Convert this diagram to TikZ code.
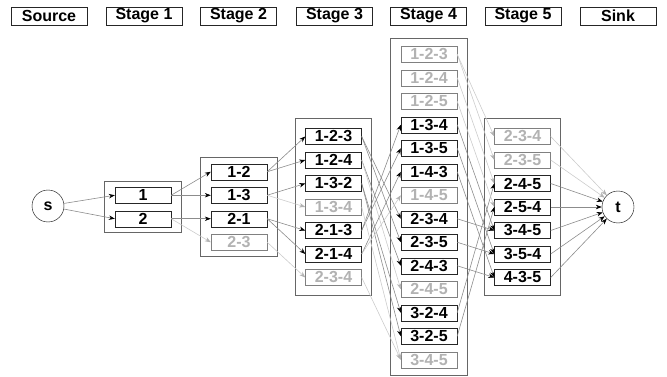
\documentclass[tikz,border=0pt]{standalone}
\usepackage{fontspec}
\setmainfont{Liberation Sans}
\usetikzlibrary{chains,fit,positioning,arrows.meta}

\newcommand\lblfont{\fontsize{16}{16}\selectfont\bfseries}

\begin{document}
\begin{tikzpicture}[x=1pt,y=-1pt]
\useasboundingbox (0,0) rectangle (667,377);

\edef\rowstep{23.5}
\tikzstyle{hdr}=[draw=black!85,minimum width=76pt,minimum height=18pt,inner sep=0pt,font=\lblfont]
\tikzstyle{st}=[draw=black!85,fill=white,minimum width=56pt,minimum height=16pt,inner sep=0pt,font=\lblfont]
\tikzstyle{dead}=[st,draw=black!50,text=black!30]
\tikzstyle{grp}=[draw=black!60,line width=1pt,inner xsep=10pt]
\tikzstyle{term}=[circle,draw,minimum size=32pt,inner sep=0pt,font=\lblfont]
\tikzstyle{arc}=[draw=black!45,line width=0.6pt,-{Stealth[length=6pt,width=4.5pt,color=black]}]
\tikzstyle{deadarc}=[draw=black!20,line width=0.6pt,-{Stealth[length=6pt,width=4.5pt,color=black!30]}]

%% Column headers
\foreach \x/\txt [count=\i] in {49/Source,144/Stage 1,238.5/Stage 2,334.5/Stage 3,428.5/Stage 4,523/Stage 5,618/Sink}
    \node [hdr] (h\i) at (\x,16) {\txt};

%% Source and sink
\node [term] (s) at (48,206) {s};
\node [term] (t) at (618,207) {t};

%% Stage 1
\foreach \lab/\sty [count=\i] in {1/st,2/st}
    \node [\sty] (A\lab) at (143,{195.25+\rowstep*(\i-1)}) {\lab};
%% Stage 2
\foreach \lab/\sty [count=\i] in {1-2/st,1-3/st,2-1/st,2-3/dead}
    \node [\sty] (B\lab) at (239,{171.75+\rowstep*(\i-1)}) {\lab};
%% Stage 3
\foreach \lab/\sty [count=\i] in {1-2-3/st,1-2-4/st,1-3-2/st,1-3-4/dead,2-1-3/st,2-1-4/st,2-3-4/dead}
    \node [\sty] (C\lab) at (333.5,{136.5+\rowstep*(\i-1)}) {\lab};
%% Stage 4
\foreach \lab/\sty [count=\i] in {1-2-3/dead,1-2-4/dead,1-2-5/dead,1-3-4/st,1-3-5/st,1-4-3/st,1-4-5/dead,
    2-3-4/st,2-3-5/st,2-4-3/st,2-4-5/dead,3-2-4/st,3-2-5/st,3-4-5/dead}
    \node [\sty] (D\lab) at (429,{54.25+\rowstep*(\i-1)}) {\lab};
%% Stage 5
\foreach \lab/\sty [count=\i] in {2-3-4/dead,2-3-5/dead,2-4-5/st,2-5-4/st,3-4-5/st,3-5-4/st,4-3-5/st}
    \node [\sty] (E\lab) at (522.5,{136.5+\rowstep*(\i-1)}) {\lab};

%% Stage frames
\node [grp,inner ysep=5.5pt,fit=(A1)(A2)] (gA) {};
\node [grp,inner ysep=6.5pt,fit=(B1-2)(B2-3)] (gB) {};
\node [grp,inner ysep=10pt,fit=(C1-2-3)(C2-3-4)] (gC) {};
\node [grp,inner ysep=7.5pt,fit=(D1-2-3)(D3-4-5)] (gD) {};
\node [grp,inner ysep=10pt,fit=(E2-3-4)(E4-3-5)] (gE) {};

%% Transitions
\draw [arc] (s) -- (A1.west);
\draw [arc] (s) -- (A2.west);
\foreach \a/\b in {A1/B1-2,A1/B1-3,A2/B2-1,
    B1-2/C1-2-3,B1-2/C1-2-4,B1-3/C1-3-2,B2-1/C2-1-3,B2-1/C2-1-4,
    C1-2-3/D2-3-4,C1-2-3/D2-3-5,C1-2-4/D2-4-3,C1-3-2/D3-2-4,C1-3-2/D3-2-5,
    C2-1-3/D1-3-4,C2-1-3/D1-3-5,C2-1-4/D1-4-3,
    D1-3-4/E3-4-5,D1-3-5/E3-5-4,D1-4-3/E4-3-5,D2-3-4/E3-4-5,D2-3-5/E3-5-4,
    D2-4-3/E4-3-5,D3-2-4/E2-4-5,D3-2-5/E2-5-4}
    \draw [arc] (\a.east) -- (\b.west);
\foreach \a/\b in {A2/B2-3,B1-3/C1-3-4,B2-3/C2-3-4,
    C1-2-4/D2-4-5,C2-1-4/D1-4-5,C1-3-4/D3-4-5,C2-3-4/D3-4-5,
    D1-2-3/E2-3-4,D1-2-3/E2-3-5,D1-2-4/E2-4-5,D1-2-5/E2-5-4}
    \draw [deadarc] (\a.east) -- (\b.west);
\foreach \a in {2-4-5,2-5-4,3-4-5,3-5-4,4-3-5}
    \draw [arc] (E\a.east) -- (t);
\foreach \a in {2-3-4,2-3-5}
    \draw [deadarc] (E\a.east) -- (t);

\end{tikzpicture}
\end{document}
